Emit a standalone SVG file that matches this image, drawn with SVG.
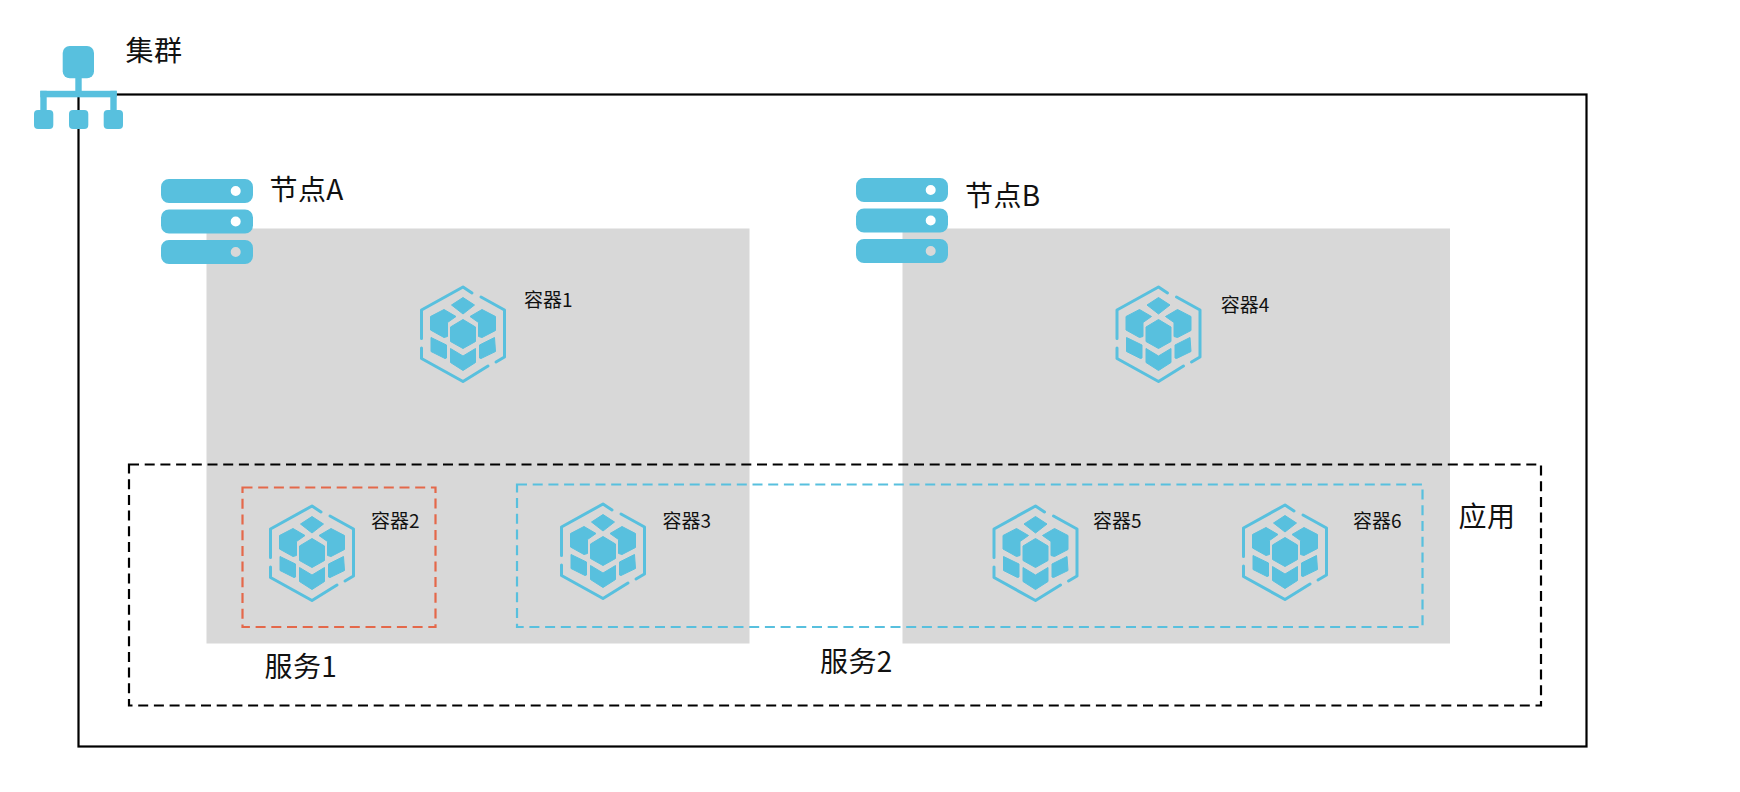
<svg xmlns="http://www.w3.org/2000/svg" width="1740" height="792" viewBox="0 0 1740 792">
<style>
  text { font-family: "Noto Sans CJK SC", "Noto Sans", sans-serif; fill: #111; }
  .big { font-size: 28px; letter-spacing: 0.4px; }
  .small { font-size: 19px; }
  .icon { fill: #58c0de; }
  .block { fill: #58c0de; stroke: #58c0de; stroke-width: 1; stroke-linejoin: round; }
  .ring { fill: none; stroke: #58c0de; stroke-width: 3; stroke-linecap: round; stroke-linejoin: round; }
  .host { fill: #d8d8d8; }
  .frame { fill: none; stroke: #000; stroke-width: 2.2; }
  .group-app { fill: none; stroke: #000; stroke-width: 2.2; stroke-dasharray: 10 5.700; }
  .group-red { fill: none; stroke: #e4684a; stroke-width: 2.200; stroke-dasharray: 10 5.700; }
  .group-blue { fill: none; stroke: #58c0de; stroke-width: 2.200; stroke-dasharray: 10 5.700; }
</style>
<defs>
  <!-- hexagonal cube cluster, centred on its origin -->
  <g id="cube">
    <path class="ring" d="M9 -41 L0 -47 L-41.500 -24 L-41.500 4.500"/>
    <path class="ring" d="M-41.500 14 L-41.500 24.500 L0 47.500 L25 32"/>
    <path class="ring" d="M33 28 L41.500 23 L41.500 -24 L18 -37"/>
    <path class="block" d="M0 -36.500 L11.500 -29 L0 -20 L-11.500 -29Z"/>
    <path class="block" d="M-19 -24.500 L-7 -17.500 L-15.500 -11.500 L-15.500 2.500 L-19 3.500 L-32.500 -4 L-32.500 -17.500Z"/>
    <path class="block" d="M19 -24.500 L32.500 -17.500 L32.500 -3.500 L19 3.500 L15.500 2.500 L15.500 -11.500 L7 -17.500Z"/>
    <path class="block" d="M0 -14.500 L12.500 -7 L12.500 7.500 L0 14.500 L-12.500 7.500 L-12.500 -7Z"/>
    <path class="block" d="M-32 3.500 L-16.500 11 L-16.500 24 L-18 24.500 L-32 17.500Z"/>
    <path class="block" d="M31.500 3.500 L32.500 17.500 L18 24.500 L16.500 24 L16.500 11Z"/>
    <path class="block" d="M-12.500 14.500 L0 22 L12.500 14.500 L12.500 28.500 L0 36.500 L-12.500 28.500Z"/>
  </g>
  <!-- three-tier server rack; each slot has a round hole -->
  <g id="rack">
    <path class="icon" fill-rule="evenodd" d="M8 0 H84 a8 8 0 0 1 8 8 V16 a8 8 0 0 1 -8 8 H8 a8 8 0 0 1 -8 -8 V8 a8 8 0 0 1 8 -8Z M69.700 12 a5 5 0 1 0 10 0 a5 5 0 1 0 -10 0Z"/>
    <path class="icon" fill-rule="evenodd" d="M8 30.500 H84 a8 8 0 0 1 8 8 V46.500 a8 8 0 0 1 -8 8 H8 a8 8 0 0 1 -8 -8 V38.500 a8 8 0 0 1 8 -8Z M69.700 42.500 a5 5 0 1 0 10 0 a5 5 0 1 0 -10 0Z"/>
    <path class="icon" fill-rule="evenodd" d="M8 61 H84 a8 8 0 0 1 8 8 V77 a8 8 0 0 1 -8 8 H8 a8 8 0 0 1 -8 -8 V69 a8 8 0 0 1 8 -8Z M69.700 73 a5 5 0 1 0 10 0 a5 5 0 1 0 -10 0Z"/>
  </g>
</defs>

<g id="cluster">
  <rect class="frame" x="78.500" y="94.500" width="1508" height="652"/>
  <g>
    <rect class="icon" x="62.700" y="46" width="31.300" height="32.300" rx="7"/>
    <rect class="icon" x="75.300" y="77" width="6.400" height="20"/>
    <rect class="icon" x="40.300" y="90.800" width="76.400" height="6.500"/>
    <rect class="icon" x="40.300" y="90.800" width="6.400" height="22"/>
    <rect class="icon" x="110.300" y="90.800" width="6.400" height="22"/>
    <rect class="icon" x="34" y="110" width="19.300" height="19" rx="4"/>
    <rect class="icon" x="69" y="110" width="19.300" height="19" rx="4"/>
    <rect class="icon" x="103.700" y="110" width="19.300" height="19" rx="4"/>
  </g>
  <text class="big" x="125.500" y="61">集群</text>
</g>

<g id="node-a">
  <rect class="host" x="206.500" y="228.500" width="543" height="415"/>
  <use href="#rack" x="161" y="179"/>
  <text class="big" x="269.500" y="200">节点A</text>
</g>

<g id="node-b">
  <rect class="host" x="902.500" y="228.500" width="547.500" height="415"/>
  <use href="#rack" x="856" y="178"/>
  <text class="big" x="965" y="206">节点B</text>
</g>

<g id="application">
  <rect class="group-app" x="129" y="464.500" width="1412" height="241"/>
  <text class="big" x="1458.500" y="527">应用</text>
</g>

<g id="service-1">
  <rect class="group-red" x="242.500" y="487.500" width="193" height="139.500"/>
  <text class="big" x="264.500" y="677">服务1</text>
</g>

<g id="service-2">
  <rect class="group-blue" x="517" y="484.500" width="905.500" height="142.500"/>
  <text class="big" x="820" y="672">服务2</text>
</g>

<g id="container-1"><use href="#cube" x="463" y="334"/><text class="small" x="524" y="307">容器1</text></g>
<g id="container-2"><use href="#cube" x="312" y="553"/><text class="small" x="371" y="528">容器2</text></g>
<g id="container-3"><use href="#cube" x="603" y="551"/><text class="small" x="662.500" y="528">容器3</text></g>
<g id="container-4"><use href="#cube" x="1158.500" y="334"/><text class="small" x="1220.700" y="312">容器4</text></g>
<g id="container-5"><use href="#cube" x="1035.500" y="553"/><text class="small" x="1093" y="528">容器5</text></g>
<g id="container-6"><use href="#cube" x="1285" y="552"/><text class="small" x="1353" y="528">容器6</text></g>

<g id="connectors"/>
</svg>
